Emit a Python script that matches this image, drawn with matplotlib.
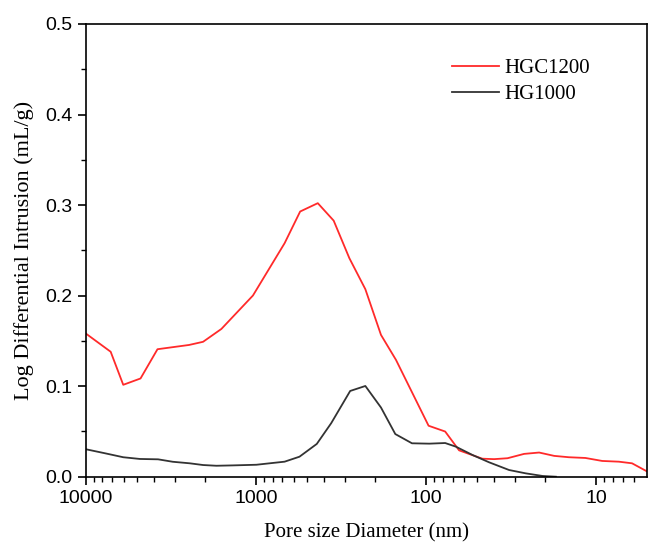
import matplotlib
matplotlib.use('Agg')
import matplotlib.pyplot as plt
from matplotlib.ticker import LogLocator, MultipleLocator, NullFormatter, FormatStrFormatter

# pore diameter (nm) and log differential intrusion (mL/g)
hgc1200_d = [10000, 7160, 6040, 4780, 3800, 2480, 2050, 1600, 1044, 680, 551,
             434, 350, 283, 228, 184.5, 150.6, 96.9, 77.4, 64.1, 46.8, 39.9,
             33.3, 26.6, 21.7, 17.7, 14.5, 11.6, 9.24, 7.38, 6.17, 5.0]
hgc1200_v = [0.158, 0.138, 0.1015, 0.1085, 0.1408, 0.1455, 0.149, 0.1632,
             0.2001, 0.2579, 0.2929, 0.3021, 0.2828, 0.2413, 0.2071, 0.1566,
             0.129, 0.0563, 0.0499, 0.0291, 0.0199, 0.0194, 0.0204, 0.0252,
             0.0267, 0.023, 0.0215, 0.0207, 0.0174, 0.0166, 0.0148, 0.0055]

hg1000_d = [10000, 7740, 6040, 4820, 3770, 3090, 2455, 2050, 1712, 1368, 997,
            833, 680, 556, 440, 362, 280, 228, 184.5, 152, 121.3, 96, 77.4,
            67, 53.5, 42.7, 32.6, 26, 20.7, 17.3]
hg1000_v = [0.0303, 0.0259, 0.0215, 0.0196, 0.0192, 0.0165, 0.0148, 0.0129,
            0.0121, 0.0125, 0.0132, 0.0148, 0.0166, 0.0221, 0.0362, 0.0591,
            0.0947, 0.1002, 0.0764, 0.0471, 0.0369, 0.0365, 0.0372, 0.0332,
            0.024, 0.0159, 0.0074, 0.0037, 0.0008, 0.0]

x_ticks = [10000, 1000, 100, 10]
x_labels = ['10000', '1000', '100', '10']

serif = 'Liberation Serif'
sans = 'Liberation Sans'

fig = plt.figure(figsize=(6.48, 5.44), dpi=100)
ax = fig.add_axes([0.1327, 0.1237, 0.8653, 0.8322])

ax.plot(hgc1200_d, hgc1200_v, color='#ff2a2a', lw=1.3, label='HGC1200')
ax.plot(hg1000_d, hg1000_v, color='#333333', lw=1.3, label='HG1000')

ax.set_xscale('log')
ax.set_xlim(10000, 5.06)
ax.set_ylim(0, 0.5)

ax.set_xticks(x_ticks, x_labels)
ax.xaxis.set_minor_locator(LogLocator(base=10, subs=range(2, 10)))
ax.xaxis.set_minor_formatter(NullFormatter())
ax.yaxis.set_major_locator(MultipleLocator(0.1))
ax.yaxis.set_minor_locator(MultipleLocator(0.05))
ax.yaxis.set_major_formatter(FormatStrFormatter('%.1f'))

ax.tick_params(which='major', direction='out', length=6, width=1.2,
               labelsize=14, top=False, right=False)
ax.tick_params(which='minor', direction='out', length=3.5, width=1.0,
               top=False, right=False)
for lab in ax.get_xticklabels() + ax.get_yticklabels():
    lab.set_fontfamily(sans)
for sp in ax.spines.values():
    sp.set_linewidth(1.2)

ax.set_xlabel('Pore size Diameter (nm)', fontfamily=serif, fontsize=15, labelpad=12)
ax.set_ylabel('Log Differential Intrusion (mL/g)', fontfamily=serif, fontsize=16, labelpad=8)

ax.legend(loc='upper left', bbox_to_anchor=(0.652, 0.923), frameon=False,
          prop={'family': serif, 'size': 15}, borderaxespad=0, borderpad=0,
          handlelength=2.3, handletextpad=0.25, labelspacing=0.3)

plt.savefig('out.png', dpi=100)
